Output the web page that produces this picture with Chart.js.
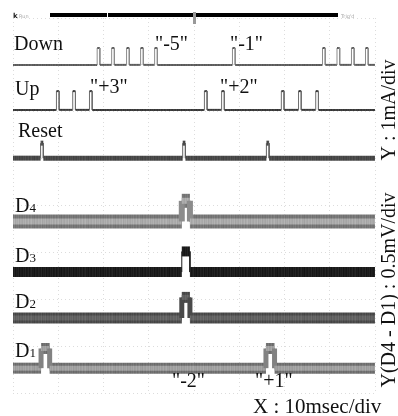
<!DOCTYPE html>
<html>
<head>
<meta charset="utf-8">
<script src="https://cdn.jsdelivr.net/npm/chart.js@4.4.0/dist/chart.umd.min.js"></script>
<style>
html, body { margin: 0; padding: 0; background: #fff; }
#wrap { width: 398px; height: 416px; position: relative; }
</style>
</head>
<body>
<div id="wrap"><canvas id="scope"></canvas></div>
<script>
// time in ms (10 ms/div), vertical position in divisions
const timeTicks = [0, 10, 20, 30, 40, 50, 60, 70, 80];
const channels = ["Down", "Up", "Reset", "D4", "D3", "D2", "D1"];
const baselines = [7.0, 6.04, 5.01, 3.66, 2.58, 1.6, 0.53];
const pulseHeights = [0.36, 0.4, 0.32, 0.44, 0.44, 0.44, 0.42];
const pulseWidths = [0.6, 0.6, 0.6, 1.8, 1.8, 1.8, 1.9];
const downPulses = [18.6, 21.8, 25.1, 28.2, 31.3, 48.5, 68.4, 71.6, 74.8, 77.9];
const upPulses = [9.6, 13.2, 16.9, 42.3, 46.1, 59.3, 63.1, 66.9];
const resetPulses = [6.1, 37.5, 56.0];
const d4Pulses = [37.3];
const d3Pulses = [37.3];
const d2Pulses = [37.3];
const d1Pulses = [6.2, 55.9];
const countLabels = ['"-5"', '"-1"', '"+3"', '"+2"', '"-2"', '"+1"'];

const allPulses = [downPulses, upPulses, resetPulses, d4Pulses, d3Pulses, d2Pulses, d1Pulses];

// trace look: outer band, optional lighter core
const outerGray = [95, 60, 72, 118, 28, 74, 112];
const outerWidths = [2, 2, 5, 14, 10, 11, 11];
const innerGray = [null, null, null, 170, null, 98, 160];
const innerWidths = [0, 0, 0, 6, 0, 5, 5];
const edgeGray = [140, 110, 100, 140, 28, 74, 130];
const streak = [0, 9, -5, 3, 10, -3, 1, -8, 6, 0, -4, 7, 2, -2, 11, -6, 4, -1, 8, -7, 3, 0, -5, 6, -2, 9, -4];

function grayPattern(level) {
    const cv = document.createElement("canvas");
    cv.width = streak.length;
    cv.height = 1;
    const g = cv.getContext("2d");
    streak.forEach((d, k) => {
        const v = Math.max(0, Math.min(255, level + d));
        g.fillStyle = `rgb(${v},${v},${v})`;
        g.fillRect(k, 0, 1, 1);
    });
    return g.createPattern(cv, "repeat");
}

function trace(pulses, base, h, w) {
    const pts = [{ x: timeTicks[0], y: base }];
    pulses.forEach(t => {
        pts.push({ x: t, y: base }, { x: t, y: base + h }, { x: t + w, y: base + h }, { x: t + w, y: base });
    });
    pts.push({ x: timeTicks[timeTicks.length - 1], y: base });
    return pts;
}

function layer(i, level, width, isCore) {
    const base = baselines[i];
    const fill = grayPattern(level);
    const edge = `rgb(${edgeGray[i]},${edgeGray[i]},${edgeGray[i]})`;
    return {
        label: channels[i] + (isCore ? " core" : ""),
        data: trace(allPulses[i], base, pulseHeights[i], pulseWidths[i]),
        order: isCore ? 0 : 1,
        borderColor: fill,
        borderWidth: width,
        pointRadius: 0,
        tension: 0,
        borderCapStyle: "butt",
        segment: {
            borderWidth: ctx => ctx.p0.parsed.x === ctx.p1.parsed.x ? (isCore ? 0 : 1) : width,
            borderColor: ctx => ctx.p0.parsed.x === ctx.p1.parsed.x ? edge : fill,
        },
    };
}

const datasets = [];
channels.forEach((name, i) => {
    datasets.push(layer(i, outerGray[i], outerWidths[i], false));
    if (innerGray[i] !== null) datasets.push(layer(i, innerGray[i], innerWidths[i], true));
});

const serif = "'Liberation Serif', 'DejaVu Serif', serif";

const overlay = {
    id: "overlay",
    afterDraw(chart) {
        const c = chart.ctx;
        const x = chart.scales.x;
        c.save();
        // status bar
        c.fillStyle = "#000";
        c.fillRect(50, 13, 288, 4);
        c.fillStyle = "#fff";
        c.fillRect(107, 13, 1, 4);
        c.fillStyle = "#999";
        const mid = x.getPixelForValue(40);
        c.fillRect(mid - 1, 12, 3, 12);
        c.font = "bold 7px 'DejaVu Sans'";
        c.fillStyle = "#222";
        c.fillText("k", 13, 18);
        c.font = "5px 'DejaVu Sans'";
        c.fillStyle = "#aaa";
        c.fillText("Run", 19, 18);
        c.fillText("Trig'd", 341, 18);

        c.fillStyle = "#111";
        c.font = "20px " + serif;
        c.fillText("Down", 14, 50);
        c.fillText("Up", 15, 95);
        c.fillText("Reset", 18, 137);
        c.fillText(countLabels[0], 155, 50);
        c.fillText(countLabels[1], 230, 50);
        c.fillText(countLabels[2], 90, 93);
        c.fillText(countLabels[3], 220, 93);
        c.fillText(countLabels[4], 172, 387);
        c.fillText(countLabels[5], 255, 387);

        const dLabels = [["4", 212], ["3", 262], ["2", 308], ["1", 357]];
        dLabels.forEach(([n, yb]) => {
            c.font = "20px " + serif;
            c.fillText("D", 15, yb);
            const w = c.measureText("D").width;
            c.font = "13px " + serif;
            c.fillText(n, 15 + w, yb);
        });

        c.font = "21px " + serif;
        c.fillText("X : 10msec/div", 253, 413);

        c.font = "20px " + serif;
        c.translate(395, 0);
        c.rotate(-Math.PI / 2);
        c.textAlign = "center";
        c.fillText("Y : 1mA/div", -110, 0);
        c.fillText("Y(D4 - D1) : 0.5mV/div", -290, 0);
        c.restore();
    }
};

new Chart(document.getElementById("scope"), {
    type: "line",
    data: { datasets: datasets },
    options: {
        responsive: true,
        maintainAspectRatio: false,
        animation: false,
        layout: { padding: { left: 13, right: 23, top: 18, bottom: 23 } },
        plugins: { legend: { display: false }, tooltip: { enabled: false } },
        scales: {
            x: {
                type: "linear",
                min: 0,
                max: 80,
                ticks: { display: false, stepSize: 10 },
                grid: { color: "#dcdcdc", drawTicks: false },
                border: { display: false, dash: [1, 3] },
            },
            y: {
                min: 0,
                max: 8,
                ticks: { display: false, stepSize: 1 },
                grid: { color: "#dcdcdc", drawTicks: false },
                border: { display: false, dash: [1, 3] },
            },
        },
    },
    plugins: [overlay],
});
</script>
</body>
</html>
